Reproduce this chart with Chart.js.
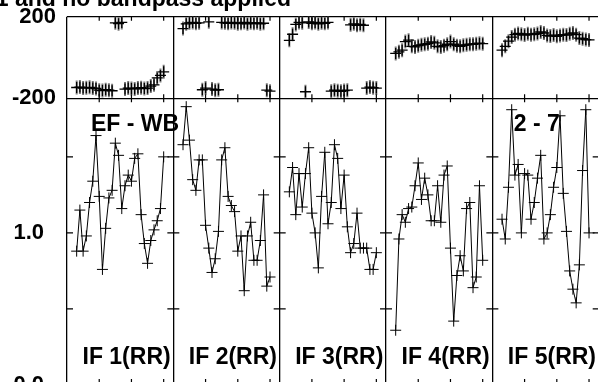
<!DOCTYPE html>
<html><head><meta charset="utf-8">
<script src="https://cdn.jsdelivr.net/npm/chart.js@4.4.0/dist/chart.umd.min.js"></script>
<style>
html,body{margin:0;padding:0;overflow:hidden;background:#fff;width:598px;height:382px;}
#wrap{position:absolute;left:0;top:0;width:640px;height:400px;}
</style></head><body>
<div id="wrap"><canvas id="c" width="640" height="400"></canvas></div>
<script>
// ---- data ----
const channels = [3,4,5,6,7,8,9,10,11,12,13,14,15,16,17,18,19,20,21,22,23,24,25,26,27,28,29,30];
const ifLabels = ['IF 1(RR)','IF 2(RR)','IF 3(RR)','IF 4(RR)','IF 5(RR)'];
const baselineLabel = 'EF - WB';
const baselineNumbers = '2 - 7';
const titleText = '1 and no bandpass applied';
const phaseTickLabels = ['-200', '200'];
const ampTickLabels = ['0.0', '1.0'];
const channelTicks = [10, 20, 30];
const ampMinorTicks = [0.5, 1.0, 1.5];

const ampIF1 = [0.88,1.15,0.88,0.98,1.20,1.34,1.64,1.24,0.76,1.03,1.23,1.28,1.59,1.51,1.16,1.31,1.38,1.34,1.49,1.52,1.12,0.93,0.80,0.95,1.02,1.08,1.16,1.50];
const ampIF2 = [1.58,1.83,1.61,1.35,1.28,1.48,1.48,1.05,0.90,0.74,0.83,1.01,1.48,1.56,1.24,1.18,1.14,0.88,0.98,0.62,0.98,1.07,0.82,0.82,0.95,1.25,0.65,0.71];
const ampIF3 = [1.27,1.43,1.12,1.39,1.17,1.39,1.56,1.13,1.00,0.77,1.24,1.53,1.06,1.20,1.58,1.49,1.16,1.38,1.04,0.87,0.93,1.13,0.90,0.90,0.90,0.76,0.76,0.87];
const ampIF4 = [0.36,0.96,1.12,1.07,1.16,1.17,1.31,1.46,1.22,1.36,1.25,1.08,1.08,1.31,1.07,1.38,1.44,0.90,0.42,0.72,0.85,0.75,1.16,1.20,0.64,0.71,1.31,0.82];
const ampIF5 = [1.09,0.96,1.30,1.81,1.38,1.45,1.00,1.39,1.38,1.09,1.20,1.36,1.51,0.96,1.00,1.12,1.30,1.43,1.77,1.26,1.01,0.75,0.63,0.54,0.79,1.41,1.81,1.00];

const phaseIF1 = [-147,-145,-150,-148,-146,-150,-152,-160,-162,-158,-160,-163,170,166,172,-155,-150,-152,-154,-150,-148,-152,-150,-140,-134,-100,-88,-70];
const phaseIF2 = [142,165,170,172,168,170,-158,-150,175,-155,-160,-158,172,170,168,172,170,166,168,172,165,170,168,170,165,168,-160,-165];
const phaseIF3 = [84,114,162,172,170,-168,174,168,172,165,170,168,172,-165,-160,-163,-166,-162,-160,160,165,158,162,158,-150,-145,-148,-150];
const phaseIF4 = [20,28,36,78,85,55,52,58,62,65,68,76,72,55,52,58,65,78,65,58,55,60,62,65,65,68,70,68];
const phaseIF5 = [36,55,80,100,112,118,114,110,116,112,114,118,125,120,108,105,110,104,108,112,110,116,120,112,95,92,88,86];

const ampSeries = [ampIF1, ampIF2, ampIF3, ampIF4, ampIF5];
const phaseSeries = [phaseIF1, phaseIF2, phaseIF3, phaseIF4, phaseIF5];

// ---- layout constants ----
const PANEL = 33;          // channel units per IF panel
const NP = ampSeries.length;
const FONT = '"Liberation Sans", Arial, Helvetica, sans-serif';

const datasets = [];
for (let p = 0; p < NP; p++) {
  datasets.push({
    type: 'line', xAxisID: 'x', yAxisID: 'yAmp', order: 1,
    data: channels.map((c, i) => ({x: p * PANEL + c, y: ampSeries[p][i]})),
    borderColor: '#000', borderWidth: 1, tension: 0, fill: false,
    pointStyle: 'cross', pointRadius: 5.5, pointBorderWidth: 1, pointBorderColor: '#000'
  });
  datasets.push({
    type: 'line', xAxisID: 'x', yAxisID: 'yPhase', order: 3, showLine: false,
    data: channels.map((c, i) => ({x: p * PANEL + c, y: phaseSeries[p][i]})),
    pointStyle: 'line', pointRotation: 90, pointRadius: 7,
    pointBorderWidth: 2, pointBorderColor: '#7a7a7a', borderColor: '#7a7a7a'
  });
  datasets.push({
    type: 'line', xAxisID: 'x', yAxisID: 'yPhase', order: 2, showLine: false,
    data: channels.map((c, i) => ({x: p * PANEL + c, y: phaseSeries[p][i]})),
    pointStyle: 'cross', pointRadius: 5.5, pointBorderWidth: 1.3,
    pointBorderColor: '#000', borderColor: '#000'
  });
}

const decor = {
  id: 'decor',
  afterDatasetsDraw(chart) {
    const {ctx, scales: {x, yPhase, yAmp}} = chart;
    const yTop = yPhase.getPixelForValue(200);
    const yMid = yPhase.getPixelForValue(-200);
    const yBot = yAmp.getPixelForValue(0);
    ctx.save();
    ctx.strokeStyle = '#000';
    ctx.lineWidth = 1.2;
    ctx.beginPath();
    for (let p = 0; p < NP + 1; p++) {
      for (const k of channelTicks) {
        const px = x.getPixelForValue(p * PANEL + k);
        ctx.moveTo(px, yTop); ctx.lineTo(px, yTop + 4);
        ctx.moveTo(px, yMid - 4); ctx.lineTo(px, yMid + 4);
        ctx.moveTo(px, yBot); ctx.lineTo(px, yBot - 6);
      }
    }
    for (let p = 0; p <= NP; p++) {
      const px = x.getPixelForValue(p * PANEL);
      for (const v of ampMinorTicks) {
        const py = yAmp.getPixelForValue(v);
        ctx.moveTo(p === 0 ? px : px - 6, py); ctx.lineTo(px + 6, py);
      }
    }
    ctx.stroke();
    ctx.fillStyle = '#000';
    ctx.font = 'bold 23px ' + FONT;
    ctx.textBaseline = 'alphabetic';
    ctx.textAlign = 'left';
    ifLabels.forEach((t, p) => ctx.fillText(t, x.getPixelForValue(p * PANEL) + 15.5, yBot - 21));
    ctx.fillText(baselineLabel, x.getPixelForValue(0) + 24, yMid + 33);
    ctx.fillText(baselineNumbers, x.getPixelForValue(4 * PANEL) + 21.5, yMid + 33);
    ctx.fillText(titleText, -4.2, 6);
    ctx.restore();
  }
};

function fixY(s) {
  s.width = 67;
  s.paddingTop = 0; s.paddingBottom = 0; s.paddingLeft = 0; s.paddingRight = 0;
}

new Chart(document.getElementById('c'), {
  data: {datasets},
  plugins: [decor],
  options: {
    responsive: false, animation: false, devicePixelRatio: 1, events: [],
    layout: {padding: {left: 0, top: 16.7, right: 41.3, bottom: 15}},
    plugins: {legend: {display: false}, tooltip: {enabled: false}, title: {display: false}},
    scales: {
      x: {
        type: 'linear', position: 'bottom', min: 0, max: PANEL * NP,
        ticks: {display: false, stepSize: PANEL},
        grid: {color: '#000', lineWidth: 1.3, drawTicks: false},
        border: {display: false},
        afterFit(s) { s.height = 0; s.paddingLeft = 0; s.paddingRight = 0; }
      },
      yAmp: {
        type: 'linear', position: 'left', stack: 'v', stackWeight: 286.7, weight: 0,
        min: 0, max: 1.885,
        ticks: {stepSize: 1, padding: 15, color: '#000',
          font: {family: FONT, size: 22, weight: 'bold'},
          callback: v => v === 0 ? ampTickLabels[0] : (v === 1 ? ampTickLabels[1] : '')},
        grid: {display: false},
        border: {display: false},
        afterFit: fixY
      },
      yPhase: {
        type: 'linear', position: 'left', stack: 'v', stackWeight: 81.6, weight: 1,
        min: -200, max: 200,
        ticks: {stepSize: 200, padding: 11, color: '#000',
          font: {family: FONT, size: 22, weight: 'bold'},
          callback: v => v === -200 ? phaseTickLabels[0] : (v === 200 ? phaseTickLabels[1] : '')},
        grid: {color: '#000', lineWidth: 1.2, drawTicks: false},
        border: {display: false},
        afterFit: fixY
      }
    }
  }
});
</script>
</body></html>
